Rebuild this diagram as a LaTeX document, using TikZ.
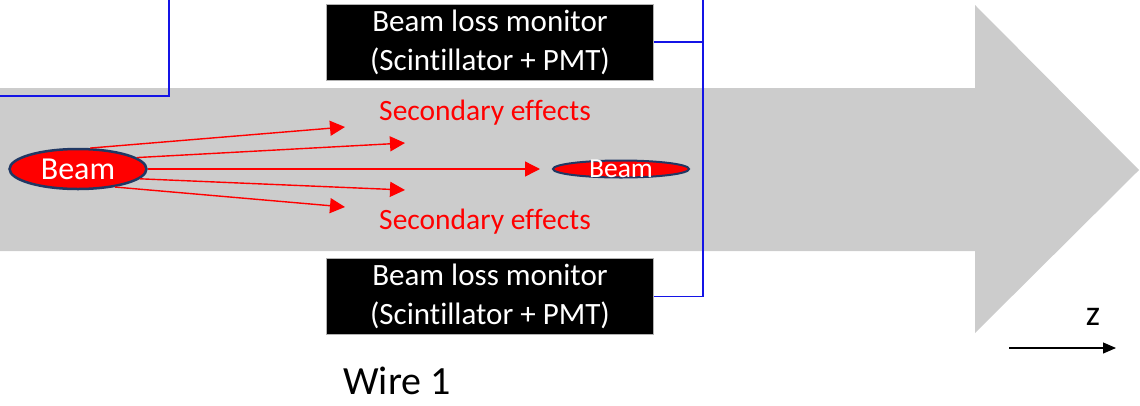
\documentclass[tikz,border=0pt]{standalone}
\usepackage{fontspec}
\setmainfont{Carlito}[Ligatures={NoCommon,NoRequired,NoContextual}]
\usetikzlibrary{arrows.meta,shapes.geometric}
\definecolor{bggray}{RGB}{204,204,204}
\definecolor{navy}{RGB}{32,56,100}
\definecolor{wireblue}{RGB}{20,20,230}
\begin{document}
\begin{tikzpicture}[x=1pt,y=-1pt,
  box/.style={fill=black,draw=gray!60,line width=0.6pt,text=white,minimum width=327pt,minimum height=76pt,align=center,inner sep=0pt,font=\fontsize{31}{39}\selectfont},
  wire/.style={draw=wireblue,line width=1.2pt},
  beamell/.style={ellipse,fill=red,draw=navy,line width=2.5pt,inner sep=0pt},
  ray/.style={draw=red,line width=1.4pt,-{Triangle[length=15pt,width=15pt]}},
  sec/.style={text=red,font=\fontsize{29.5}{32}\selectfont}
]
\useasboundingbox (0,0) rectangle (1140,405);
% big gray arrow
\fill[bggray] (0,88) -- (975,88) -- (975,5) -- (1139,170) -- (975,333) -- (975,251) -- (0,251) -- cycle;
% wires
\coordinate (wA) at (169,0);
\coordinate (wB) at (0,96);
\coordinate (top) at (703,0);
\node[box] (blm1) at (490,42) {Beam loss monitor\\(Scintillator + PMT)};
\node[box] (blm2) at (490,296.5) {Beam loss monitor\\(Scintillator + PMT)};
\draw[wire] (wA) |- (wB);
\draw[wire] (top) |- (blm2.east);
\draw[wire] (blm1.east) -- (blm1.east -| top);
% beams
\node[beamell,minimum width=137pt,minimum height=40pt,label={[text=white,font=\fontsize{32}{34}\selectfont]center:Beam}] (beam) at (78,169) {};
\node[beamell,minimum width=136pt,minimum height=17pt,line width=2pt,label={[text=white,font=\fontsize{27.5}{29}\selectfont]center:Beam}] (beam2) at (621,169) {};
% rays
\coordinate (t1) at (345,127);
\coordinate (t2) at (405,143);
\coordinate (t4) at (405,190);
\coordinate (t5) at (345,207);
\draw[ray] (beam.60) -- (t1);
\draw[ray] (beam.11) -- (t2);
\draw[ray,shorten >=12pt] (beam.east) -- (beam2.west);
\draw[ray] (beam.-9) -- (t4);
\draw[ray] (beam.-26) -- (t5);
\node[sec] (s1) at (485,113) {Secondary effects};
\node[sec] (s2) at (485,222) {Secondary effects};
\node[font=\fontsize{40}{44}\selectfont] (w1) at (397,381) {Wire 1};
% z axis
\coordinate (z0) at (1009,348);
\coordinate (z1) at (1116,348);
\draw[line width=1.1pt,-{Triangle[length=13pt,width=11pt]}] (z0) -- (z1);
\node[font=\fontsize{36}{38}\selectfont] (zl) at (1093,317) {z};
\end{tikzpicture}
\end{document}
